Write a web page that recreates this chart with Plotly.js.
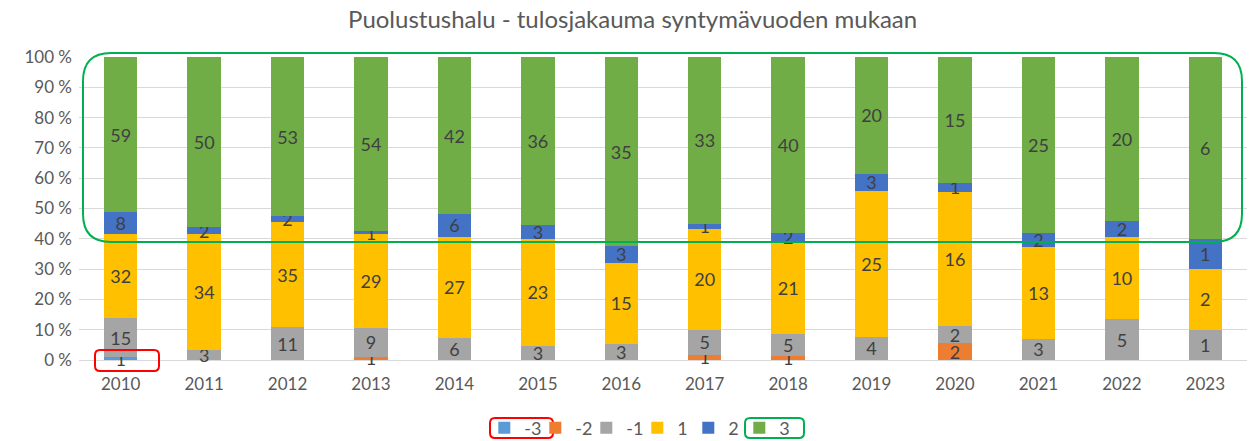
<!DOCTYPE html>
<html><head><meta charset="utf-8">
<script src="https://cdn.plot.ly/plotly-3.0.1.min.js"></script>
<style>body{margin:0;background:#fff}#c{width:1251px;height:441px}</style>
</head><body><div id="c"></div>
<script>
const years = ['2010','2011','2012','2013','2014','2015','2016','2017','2018','2019','2020','2021','2022','2023'];
const seriesNames = ['-3','-2','-1','1','2','3'];
const vMinus3 = [1,0,0,0,0,0,0,0,0,0,0,0,0,0];
const vMinus2 = [0,0,0,1,0,0,0,1,1,0,2,0,0,0];
const vMinus1 = [15,3,11,9,6,3,3,5,5,4,2,3,5,1];
const vPlus1  = [32,34,35,29,27,23,15,20,21,25,16,13,10,2];
const vPlus2  = [8,2,2,1,6,3,3,1,2,3,1,2,2,1];
const vPlus3  = [59,50,53,54,42,36,35,33,40,20,15,25,20,6];
const yTickVals = [0,10,20,30,40,50,60,70,80,90,100];
const yTickText = ['0 %','10 %','20 %','30 %','40 %','50 %','60 %','70 %','80 %','90 %','100 %'];
const colors = ['#5B9BD5','#ED7D31','#A5A5A5','#FFC000','#4472C4','#70AD47'];
const allVals = [vMinus3,vMinus2,vMinus1,vPlus1,vPlus2,vPlus3];

const FONT = 'Lato, "Open Sans", sans-serif';
const traces = allVals.map((v,i)=>({
  type:'bar', name:seriesNames[i], x:years, y:v,
  marker:{color:colors[i]},
  text:v.map(n=>n===0?'':String(n)),
  textposition:'inside', insidetextanchor:'middle', constraintext:'none', textangle:0,
  textfont:{color:'#404040',size:18,family:FONT},
  cliponaxis:false,
  hoverinfo:'none'
}));

const L=79,R=4,T=57,B=81,W=1251,H=441;
const pw=W-L-R, ph=H-T-B;
const px=x=>(x-L)/pw, py=y=>(H-B-y)/ph;
function rrect(x0,y0,x1,y1,r){
  const X=px, Y=py;
  return `M ${X(x0+r)} ${Y(y0)} L ${X(x1-r)} ${Y(y0)} Q ${X(x1)} ${Y(y0)} ${X(x1)} ${Y(y0+r)} `+
         `L ${X(x1)} ${Y(y1-r)} Q ${X(x1)} ${Y(y1)} ${X(x1-r)} ${Y(y1)} `+
         `L ${X(x0+r)} ${Y(y1)} Q ${X(x0)} ${Y(y1)} ${X(x0)} ${Y(y1-r)} `+
         `L ${X(x0)} ${Y(y0+r)} Q ${X(x0)} ${Y(y0)} ${X(x0+r)} ${Y(y0)} Z`;
}
const shapes=[
  {type:'path',xref:'paper',yref:'paper',path:rrect(83,53,1242,242,28),line:{color:'#00B050',width:2}},
  {type:'path',xref:'paper',yref:'paper',path:rrect(95,350,159,371,5),line:{color:'#FF0000',width:2}},
  {type:'path',xref:'paper',yref:'paper',path:rrect(490,418,553,438,5),line:{color:'#FF0000',width:2}},
  {type:'path',xref:'paper',yref:'paper',path:rrect(745,418,804,438,5),line:{color:'#00B050',width:2}}
];

const layout={
  width:W,height:H,margin:{l:L,r:R,t:T,b:B,autoexpand:false},
  paper_bgcolor:'#fff',plot_bgcolor:'#fff',
  font:{family:FONT,color:'#595959',size:17},
  title:{text:'Puolustushalu - tulosjakauma syntymävuoden mukaan',x:0.474,xref:'paper',y:0.955,yanchor:'middle',font:{size:24,color:'#595959',family:FONT}},
  barmode:'stack',barnorm:'percent',bargap:0.6,
  uniformtext:{minsize:18,mode:'show'},
  xaxis:{type:'category',tickfont:{size:17,color:'#595959'},showline:false,ticks:'',showgrid:false,automargin:false,ticklabelstandoff:12},
  yaxis:{range:[0,100],tickmode:'array',tickvals:yTickVals,ticktext:yTickText,
         gridcolor:'#D9D9D9',gridwidth:1,zeroline:true,zerolinecolor:'#D9D9D9',zerolinewidth:1,tickfont:{size:17,color:'#595959'},ticks:'',ticklabelstandoff:6,automargin:false},
  showlegend:true,
  legend:{orientation:'h',x:0.478,xanchor:'center',y:py(428),yanchor:'middle',bgcolor:'rgba(0,0,0,0)',font:{size:18,color:'#595959'},traceorder:'normal',entrywidth:6,entrywidthmode:'pixels',itemwidth:30},
  shapes:shapes
};
Plotly.newPlot('c',traces,layout,{staticPlot:true});
</script></body></html>
